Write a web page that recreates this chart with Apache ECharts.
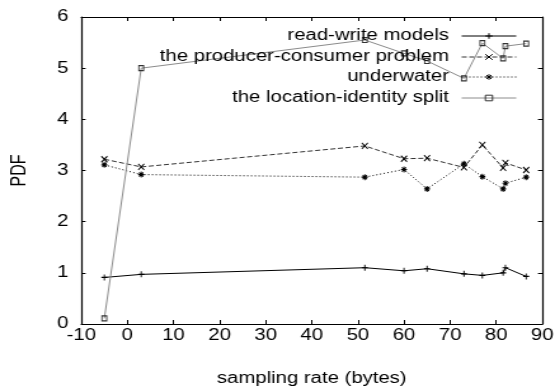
<!DOCTYPE html>
<html>
<head>
<meta charset="utf-8">
<script src="https://cdn.jsdelivr.net/npm/echarts@6/dist/echarts.min.js"></script>
<style>
  html, body { margin: 0; padding: 0; background: #fff; overflow: hidden; }
  /* the source plot is stretched sideways, so draw narrow and widen it */
  #chart { width: 439px; height: 392px; transform: scaleX(1.27); transform-origin: 0 0; }
</style>
</head>
<body>
<div id="chart"></div>
<script>
// sampling rate (bytes), shared by every series
var rates = [-5, 3, 51.5, 60, 65, 73, 77, 81.5, 82, 86.5];

var readWrite   = [0.91, 0.97, 1.10, 1.04, 1.08, 0.98, 0.95, 1.00, 1.10, 0.93];
var prodCons    = [3.22, 3.07, 3.48, 3.23, 3.24, 3.06, 3.50, 3.05, 3.15, 3.01];
var underwater  = [3.11, 2.92, 2.87, 3.02, 2.64, 3.13, 2.88, 2.64, 2.75, 2.87];
var locIdentity = [0.11, 5.00, 5.55, 5.29, 5.14, 4.80, 5.49, 5.19, 5.43, 5.48];

var names = ['read-write models', 'the producer-consumer problem', 'underwater', 'the location-identity split'];

var FONT = 'Liberation Sans';

function pairs(vals) {
    return rates.map(function (x, i) { return [x, vals[i]]; });
}

var plus = 'path://M5 0L5 10M0 5L10 5';
var cross = 'path://M0 0L10 10M10 0L0 10';
var star = 'path://M5 0L5 10M0 5L10 5M1.5 1.5L8.5 8.5M8.5 1.5L1.5 8.5';

function mkSeries(name, vals, sym, size, lineColor, markColor, lineType) {
    return {
        name: name,
        type: 'line',
        data: pairs(vals),
        symbol: sym,
        symbolSize: size,
        showSymbol: true,
        showAllSymbol: true,
        lineStyle: { color: lineColor, width: 1, type: lineType },
        itemStyle: { color: 'rgba(0,0,0,0)', borderColor: markColor, borderWidth: 1 },
        emphasis: { disabled: true },
        z: 3
    };
}

function mkLegend(name, top) {
    return {
        data: [name],
        right: 32,
        top: top,
        align: 'right',
        padding: 0,
        itemWidth: 43,
        itemHeight: 7,
        selectedMode: false,
        lineStyle: { width: 1 },
        itemStyle: { borderWidth: 1 },
        textStyle: { fontFamily: FONT, fontSize: 16, color: '#000', padding: [0, 5, 0, 0] }
    };
}

var chart = echarts.init(document.getElementById('chart'));

var xTick = { inside: true, length: 4, lineStyle: { color: '#000', width: 1 } };
var yTick = { inside: true, length: 3.4, lineStyle: { color: '#000', width: 1 } };
var frame = { onZero: false, lineStyle: { color: '#000', width: 1.2 } };
var tickFont = { fontFamily: FONT, fontSize: 16, color: '#000' };

chart.setOption({
    animation: false,
    backgroundColor: '#fff',
    grid: { left: 64, right: 12, top: 17, bottom: 64 },
    legend: [
        mkLegend(names[0], 28),
        mkLegend(names[1], 49),
        mkLegend(names[2], 69),
        mkLegend(names[3], 90)
    ],
    xAxis: [{
        type: 'value',
        min: -10, max: 90, interval: 10,
        name: 'sampling rate (bytes)',
        nameLocation: 'middle',
        nameGap: 47,
        nameTextStyle: tickFont,
        axisLine: frame,
        axisTick: xTick,
        axisLabel: Object.assign({ margin: 4 }, tickFont),
        splitLine: { show: false }
    }, {
        type: 'value',
        position: 'top',
        min: -10, max: 90, interval: 10,
        axisLine: frame,
        axisTick: xTick,
        axisLabel: { show: false },
        splitLine: { show: false }
    }],
    yAxis: [{
        type: 'value',
        min: 0, max: 6, interval: 1,
        name: 'PDF',
        nameLocation: 'middle',
        nameGap: 40,
        nameTextStyle: tickFont,
        axisLine: frame,
        axisTick: yTick,
        axisLabel: Object.assign({ margin: 10 }, tickFont),
        splitLine: { show: false }
    }, {
        type: 'value',
        position: 'right',
        min: 0, max: 6, interval: 1,
        axisLine: frame,
        axisTick: yTick,
        axisLabel: { show: false },
        splitLine: { show: false }
    }],
    series: [
        mkSeries(names[0], readWrite, plus, [4.7, 6], '#000', '#000', 'solid'),
        mkSeries(names[1], prodCons, cross, [4.7, 6], '#333', '#000', [4, 2]),
        mkSeries(names[2], underwater, star, [4.7, 6], '#000', '#000', [1, 2]),
        mkSeries(names[3], locIdentity, 'rect', [3.8, 5], '#8c8c8c', '#333', 'solid')
    ]
});
</script>
</body>
</html>
